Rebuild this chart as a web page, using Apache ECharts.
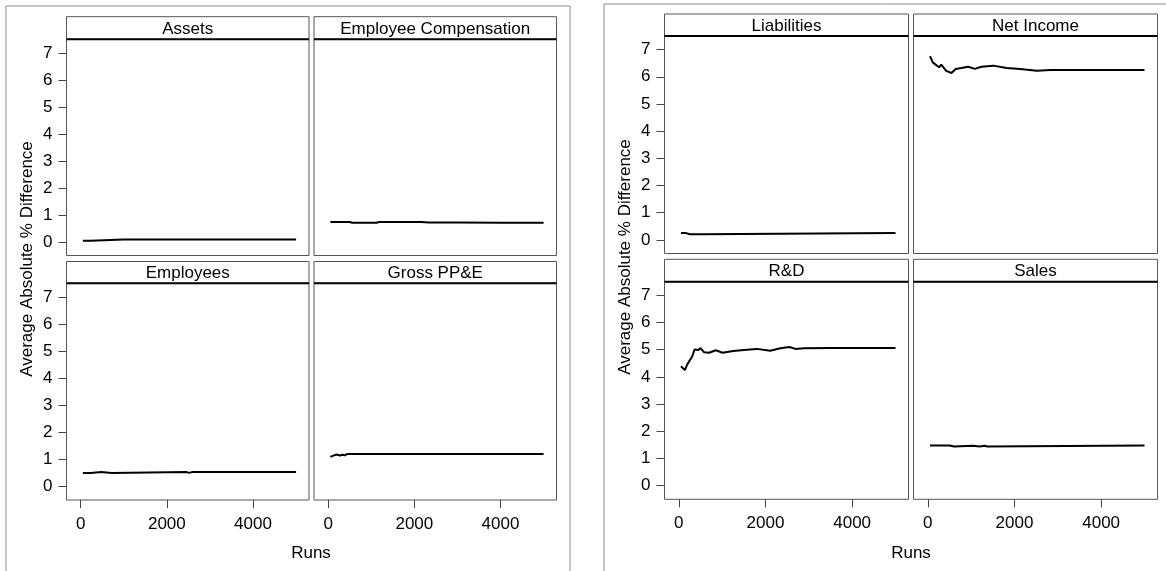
<!DOCTYPE html>
<html>
<head>
<meta charset="utf-8">
<title>Average Absolute % Difference by Runs</title>
<script src="https://cdn.jsdelivr.net/npm/echarts@6/dist/echarts.min.js"></script>
<style>
html, body { margin: 0; padding: 0; background: #fff; }
#chart { width: 1166px; height: 571px; }
</style>
</head>
<body>
<div id="chart"></div>
<script>
// values (runs -> avg abs % difference)
var assetsRuns = [50, 230, 240, 1000, 2000, 3000, 4000, 5000];
var assetsVals = [0.05, 0.05, 0.09, 0.09, 0.09, 0.09, 0.09, 0.09];

var empCompRuns = [50, 500, 530, 560, 1120, 1180, 2170, 2200, 2330, 3000, 4000, 5000];
var empCompVals = [0.74, 0.74, 0.70, 0.71, 0.71, 0.74, 0.74, 0.69, 0.72, 0.72, 0.71, 0.71];

var employeesRuns = [50, 230, 260, 480, 500, 720, 740, 2460, 2520, 2580, 5000];
var employeesVals = [0.5, 0.5, 0.53, 0.53, 0.5, 0.5, 0.53, 0.53, 0.5, 0.53, 0.53];

var grossRuns = [50, 120, 190, 270, 330, 390, 440, 1000, 2000, 3000, 4000, 5000];
var grossVals = [1.09, 1.14, 1.18, 1.14, 1.17, 1.15, 1.2, 1.2, 1.2, 1.2, 1.2, 1.2];

var liabRuns = [50, 170, 250, 540, 560, 5000];
var liabVals = [0.25, 0.25, 0.21, 0.21, 0.25, 0.25];

var netIncRuns = [50, 115, 210, 260, 310, 425, 545, 645, 775, 930, 1085, 1240, 1510, 1820, 2130, 2520, 2830, 4480, 4520, 5000];
var netIncVals = [6.76, 6.53, 6.41, 6.35, 6.45, 6.22, 6.14, 6.29, 6.32, 6.37, 6.29, 6.37, 6.41, 6.32, 6.29, 6.22, 6.25, 6.25, 6.28, 6.25];

var rdRuns = [50, 93, 140, 195, 233, 312, 365, 451, 498, 581, 698, 853, 1009, 1256, 1567, 1800, 2109, 2342, 2551, 2691, 2884, 3500, 4000, 4500, 5000];
var rdVals = [4.39, 4.37, 4.25, 4.46, 4.52, 4.76, 5.01, 4.99, 5.06, 4.91, 4.89, 4.98, 4.89, 4.95, 5.0, 5.03, 4.96, 5.05, 5.1, 5.03, 5.05, 5.06, 5.06, 5.06, 5.06];

var salesRuns = [50, 500, 520, 610, 630, 1040, 1060, 1200, 1220, 1310, 1330, 1370, 1390, 5000];
var salesVals = [1.48, 1.48, 1.44, 1.44, 1.47, 1.47, 1.44, 1.44, 1.47, 1.47, 1.44, 1.44, 1.48, 1.48];

var xTicks = [0, 2000, 4000];
var yTicks = [0, 1, 2, 3, 4, 5, 6, 7];
var yTitle = 'Average Absolute % Difference';
var xTitle = 'Runs';

var FONT = '"Liberation Sans", Arial, sans-serif';

// panel boxes (px): header top, plot top/bottom, left/right
var panels = [
    {title: 'Assets',                runs: assetsRuns,    vals: assetsVals,    l: 66.5,  r: 309,    h: 16.7,  t: 39.3, b: 255.5, yl: true,  xl: false},
    {title: 'Employee Compensation', runs: empCompRuns,   vals: empCompVals,   l: 314,   r: 556.5,  h: 16.7,  t: 39.3, b: 255.5, yl: false, xl: false},
    {title: 'Employees',             runs: employeesRuns, vals: employeesVals, l: 66.5,  r: 309,    h: 261.5, t: 283.3, b: 500,  yl: true,  xl: true},
    {title: 'Gross PP&E',            runs: grossRuns,     vals: grossVals,     l: 314,   r: 556.5,  h: 261.5, t: 283.3, b: 500,  yl: false, xl: true},
    {title: 'Liabilities',           runs: liabRuns,      vals: liabVals,      l: 664.5, r: 908.5,  h: 14,    t: 36,   b: 253.5, yl: true,  xl: false},
    {title: 'Net Income',            runs: netIncRuns,    vals: netIncVals,    l: 913.5, r: 1157.5, h: 14,    t: 36,   b: 253.5, yl: false, xl: false},
    {title: 'R&D',                   runs: rdRuns,        vals: rdVals,        l: 664.5, r: 908.5,  h: 259.3, t: 281.7, b: 499.3, yl: true, xl: true},
    {title: 'Sales',                 runs: salesRuns,     vals: salesVals,     l: 913.5, r: 1157.5, h: 259.3, t: 281.7, b: 499.3, yl: false, xl: true}
];

var grids = [], xAxes = [], yAxes = [], series = [];
var graphics = [
    {type: 'rect', shape: {x: 6, y: 6, width: 564, height: 600}, style: {fill: 'none', stroke: '#8a8a8a', lineWidth: 1}},
    {type: 'rect', shape: {x: 604, y: 4, width: 600, height: 600}, style: {fill: 'none', stroke: '#8a8a8a', lineWidth: 1}},
    {type: 'text', x: 27, y: 259, rotation: Math.PI / 2, style: {text: yTitle, font: '17px ' + FONT, fill: '#000', align: 'center', verticalAlign: 'middle'}},
    {type: 'text', x: 625, y: 257, rotation: Math.PI / 2, style: {text: yTitle, font: '17px ' + FONT, fill: '#000', align: 'center', verticalAlign: 'middle'}},
    {type: 'text', x: 311, y: 553, style: {text: xTitle, font: '17px ' + FONT, fill: '#000', align: 'center', verticalAlign: 'middle'}},
    {type: 'text', x: 911, y: 553, style: {text: xTitle, font: '17px ' + FONT, fill: '#000', align: 'center', verticalAlign: 'middle'}}
];

panels.forEach(function (p, i) {
    grids.push({
        left: p.l, top: p.t, width: p.r - p.l, height: p.b - p.t,
        show: true, borderColor: '#555', borderWidth: 1, backgroundColor: '#fff',
        outerBoundsMode: 'none', containLabel: false
    });
    xAxes.push({
        gridIndex: i, type: 'value', min: -330, max: 5300,
        axisLine: {show: false, onZero: false}, splitLine: {show: false},
        axisTick: {show: p.xl, customValues: xTicks, length: 8, lineStyle: {color: '#444'}},
        axisLabel: {show: p.xl, customValues: xTicks, margin: 16, fontSize: 17, color: '#000', fontFamily: FONT,
            formatter: function (v) { return String(v); }}
    });
    yAxes.push({
        gridIndex: i, type: 'value', min: -0.5, max: 7.5,
        axisLine: {show: false, onZero: false}, splitLine: {show: false},
        axisTick: {show: p.yl, customValues: yTicks, length: 8, lineStyle: {color: '#444'}},
        axisLabel: {show: p.yl, customValues: yTicks, margin: 14, fontSize: 17, color: '#000', fontFamily: FONT}
    });
    series.push({
        type: 'line', xAxisIndex: i, yAxisIndex: i, showSymbol: false, silent: true,
        lineStyle: {color: '#000', width: 2},
        data: p.runs.map(function (r, k) { return [r, p.vals[k]]; })
    });
    // strip header above each panel
    graphics.push({type: 'rect', shape: {x: p.l, y: p.h, width: p.r - p.l, height: p.t - p.h}, style: {fill: '#fff', stroke: '#555', lineWidth: 1}});
    graphics.push({type: 'line', shape: {x1: p.l, y1: p.t, x2: p.r, y2: p.t}, style: {stroke: '#000', lineWidth: 2}, z: 10});
    graphics.push({type: 'text', x: (p.l + p.r) / 2, y: (p.h + p.t) / 2 + 1, style: {text: p.title, font: '17px ' + FONT, fill: '#000', align: 'center', verticalAlign: 'middle'}});
});

var chart = echarts.init(document.getElementById('chart'));
chart.setOption({
    animation: false,
    backgroundColor: '#fff',
    grid: grids,
    xAxis: xAxes,
    yAxis: yAxes,
    series: series,
    graphic: graphics
});
</script>
</body>
</html>
